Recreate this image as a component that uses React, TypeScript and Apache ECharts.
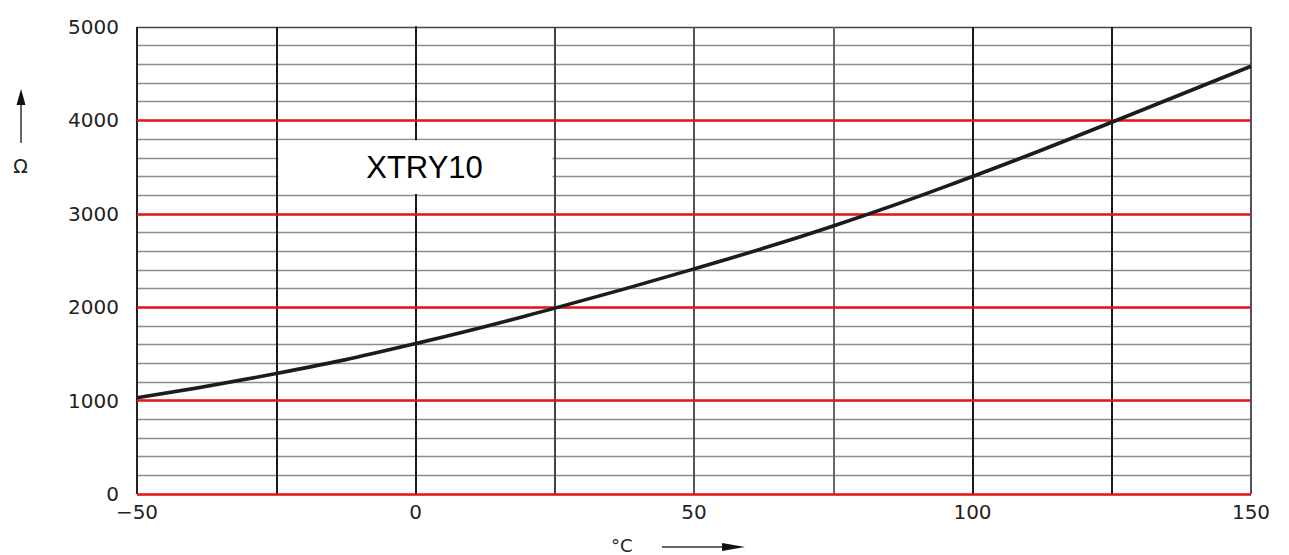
import React, { useEffect, useRef } from "react";
import * as echarts from "echarts";

// Data
const temperatures = [-50, -25, 0, 25, 50, 75, 100, 125, 150];
const resistances = [1030, 1290, 1610, 1990, 2410, 2870, 3400, 3980, 4580];
const majorLines = [0, 1000, 2000, 3000, 4000];
const seriesLabel = "XTRY10";
const labelBox = { x1: -24.6, y1: 3212, x2: 24.6, y2: 3788 };

export default function App() {
  const ref = useRef<HTMLDivElement>(null);

  useEffect(() => {
    if (!ref.current) return;
    const chart = echarts.init(ref.current, undefined, { renderer: "svg" });
    const font = "DejaVu Sans";
    const yGridColors = Array.from({ length: 26 }, (_, i) => (i === 25 ? "#444" : "#8c8c8c"));
    chart.setOption({
      animation: false,
      backgroundColor: "#ffffff",
      grid: { left: 137, right: 38, top: 27, bottom: 61, containLabel: false },
      xAxis: {
        type: "value",
        min: -50,
        max: 150,
        interval: 25,
        axisLine: { show: false },
        axisTick: { show: false },
        axisLabel: {
          color: "#222",
          fontFamily: font,
          fontSize: 20,
          lineHeight: 15,
          margin: 10,
          formatter: (v: number) => (v % 50 === 0 ? (v < 0 ? "\u2212" + Math.abs(v) : String(v)) : ""),
        },
        splitLine: {
          show: true,
          lineStyle: {
            width: 2,
            color: ["#222", "#1a1a1a", "#1a1a1a", "#444", "#555", "#666", "#1a1a1a", "#1a1a1a", "#555"],
          },
        },
      },
      yAxis: {
        type: "value",
        min: 0,
        max: 5000,
        interval: 200,
        axisLine: { show: true, lineStyle: { color: "#1a1a1a", width: 2 } },
        axisTick: { show: false },
        axisLabel: {
          color: "#222",
          fontFamily: font,
          fontSize: 20,
          lineHeight: 14,
          margin: 18,
          formatter: (v: number) => (v % 1000 === 0 ? String(v) : ""),
        },
        splitLine: { show: true, lineStyle: { color: yGridColors, width: 1.3 } },
      },
      series: [
        {
          type: "line",
          data: [],
          silent: true,
          z: 1,
          markArea: {
            silent: true,
            itemStyle: { color: "#ffffff", opacity: 1 },
            label: {
              show: true,
              position: "inside",
              offset: [9, 0],
              color: "#000",
              fontFamily: "Liberation Sans",
              fontSize: 31,
              formatter: seriesLabel,
            },
            data: [[{ coord: [labelBox.x1, labelBox.y1] }, { coord: [labelBox.x2, labelBox.y2] }]],
          },
          markLine: {
            silent: true,
            symbol: "none",
            label: { show: false },
            lineStyle: { color: "#e8141c", width: 2.5, type: "solid" },
            data: majorLines.map((v) => ({ yAxis: v })),
          },
        },
        {
          type: "line",
          z: 5,
          smooth: true,
          showSymbol: false,
          symbol: "none",
          lineStyle: { color: "#1c1c1c", width: 3.6 },
          data: temperatures.map((t, i) => [t, resistances[i]]),
        },
      ],
      graphic: [
        { type: "line", shape: { x1: 21, y1: 143, x2: 21, y2: 100 }, style: { stroke: "#333", lineWidth: 1.5 } },
        { type: "polygon", shape: { points: [[16.5, 105], [21, 89], [25.5, 105]] }, style: { fill: "#111" } },
        {
          type: "text",
          x: 20.5,
          y: 166,
          style: { text: "\u03A9", fontFamily: font, fontSize: 19, fill: "#222", align: "center", verticalAlign: "middle" },
        },
        {
          type: "text",
          x: 611,
          y: 545,
          style: { text: "\u00B0C", fontFamily: font, fontSize: 18, fill: "#222", align: "left", verticalAlign: "middle" },
        },
        { type: "line", shape: { x1: 662, y1: 547, x2: 725, y2: 547 }, style: { stroke: "#333", lineWidth: 1.5 } },
        { type: "polygon", shape: { points: [[722, 543], [745, 547], [722, 551]] }, style: { fill: "#111" } },
      ],
    });
    return () => chart.dispose();
  }, []);

  return (
    <div
      ref={ref}
      style={{ position: "fixed", left: 0, top: 0, width: 1289, height: 555, background: "#fff" }}
    />
  );
}
